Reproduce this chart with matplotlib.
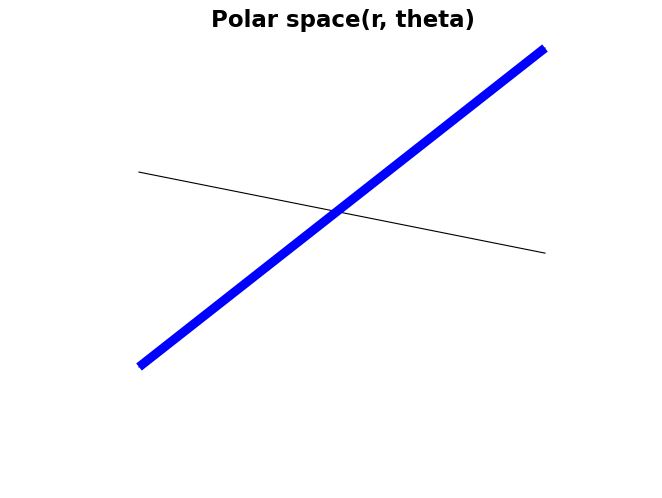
import matplotlib
matplotlib.use("Agg")
import matplotlib.pyplot as plt

# data
x_vals = [0.0, 1.0]
blue_y = [0.0, 1.0]
black_y = [0.611, 0.357]
title = "Polar space(r, theta)"

W, H = 662, 498
fig = plt.figure(figsize=(W / 100, H / 100), dpi=100)
ax = fig.add_axes([139 / W, (H - 367) / H, (545 - 139) / W, (367 - 48) / H])
ax.set_xlim(0, 1)
ax.set_ylim(0, 1)
ax.axis("off")

ax.plot(x_vals, black_y, color="black", lw=0.8, clip_on=False)
ax.plot(x_vals, blue_y, color="black", lw=0.8, clip_on=False)
ax.plot(x_vals, blue_y, color="#0000ff", lw=6.5, solid_capstyle="butt", clip_on=False)

fig.text(342.5 / W, 1 - 20 / H, title, ha="center", va="center",
         fontsize=16.5, fontweight="bold", family="DejaVu Sans")

fig.savefig("out.png", dpi=100)
